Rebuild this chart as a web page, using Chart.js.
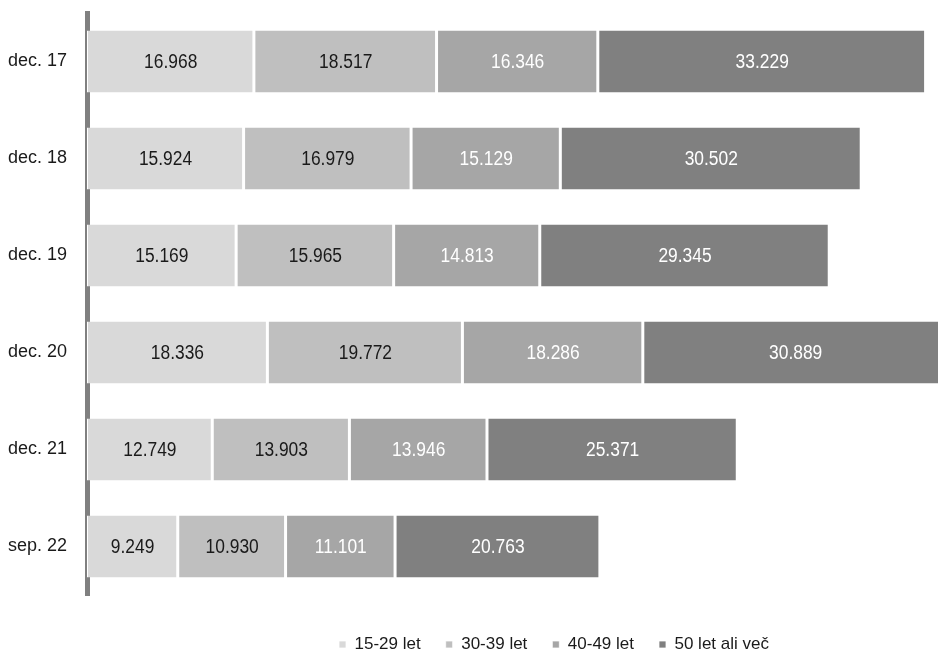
<!DOCTYPE html>
<html>
<head>
<meta charset="utf-8">
<script src="https://cdn.jsdelivr.net/npm/chart.js@4.4.1/dist/chart.umd.min.js"></script>
<style>
    body { margin: 0; background: #fff; }
    #wrap { width: 938px; height: 651px; overflow: hidden; position: relative; }
    #box { width: 1108px; height: 663px; }
</style>
</head>
<body>
<div id="wrap"><div id="box"><canvas id="myChart" width="1108" height="663"></canvas></div></div>
<script>
// Podatki
const categories = ['dec. 17', 'dec. 18', 'dec. 19', 'dec. 20', 'dec. 21', 'sep. 22'];
const seriesNames = ['15-29 let', '30-39 let', '40-49 let', '50 let ali več'];
const age15to29 = [16968, 15924, 15169, 18336, 12749, 9249];
const age30to39 = [18517, 16979, 15965, 19772, 13903, 10930];
const age40to49 = [16346, 15129, 14813, 18286, 13946, 11101];
const age50plus = [33229, 30502, 29345, 30889, 25371, 20763];

const colors = ['#d9d9d9', '#bfbfbf', '#a6a6a6', '#808080'];
const labelColors = ['#1a1a1a', '#1a1a1a', '#ffffff', '#ffffff'];
const FONT = '"Liberation Sans", Arial, sans-serif';

// 16968 -> 16.968
function formatNumber(v) {
    return String(v).replace(/\B(?=(\d{3})+(?!\d))/g, '.');
}

// Oznake vrednosti na sredini segmentov (ozka pisava)
const valueLabels = {
    id: 'valueLabels',
    afterDatasetsDraw(chart) {
        const ctx = chart.ctx;
        chart.data.datasets.forEach((ds, i) => {
            const meta = chart.getDatasetMeta(i);
            meta.data.forEach((bar, j) => {
                const c = bar.getCenterPoint();
                ctx.save();
                ctx.translate(c.x, c.y + 1);
                ctx.scale(0.87, 1);
                ctx.font = `20px ${FONT}`;
                ctx.textAlign = 'center';
                ctx.textBaseline = 'middle';
                ctx.fillStyle = labelColors[i];
                ctx.fillText(formatNumber(ds.data[j]), 0, 0);
                ctx.restore();
            });
        });
    }
};

function renderChart() {
    const ctx = document.getElementById('myChart').getContext('2d');
    const series = [age15to29, age30to39, age40to49, age50plus];
    const myChart = new Chart(ctx, {
        type: 'bar',
        data: {
            labels: categories,
            datasets: series.map((data, i) => ({
                label: seriesNames[i],
                data,
                backgroundColor: colors[i],
                borderColor: '#ffffff',
                borderWidth: { left: 1, right: 2, top: 0, bottom: 0 },
                borderSkipped: false,
                categoryPercentage: 1,
                barPercentage: 0.64,
            }))
        },
        options: {
            indexAxis: 'y',
            responsive: false,
            animation: false,
            layout: { padding: { top: 13, right: 0, left: 0, bottom: 0 } },
            scales: {
                x: {
                    stacked: true,
                    min: 0,
                    max: 103500,
                    grid: { display: false },
                    border: { display: false },
                    ticks: { display: false },
                    afterFit: (scale) => { scale.height = 16; },
                },
                y: {
                    stacked: true,
                    z: 1,
                    grid: { display: false, drawTicks: false },
                    border: { display: true, color: '#808080', width: 5 },
                    ticks: {
                        padding: 20,
                        color: '#1a1a1a',
                        font: { family: FONT, size: 18 },
                    },
                    afterFit: (scale) => {
                        scale.width = 87;
                        scale.paddingTop = 0;
                        scale.paddingBottom = 0;
                    },
                },
            },
            plugins: {
                legend: {
                    position: 'bottom',
                    labels: {
                        boxWidth: 7,
                        boxHeight: 7,
                        padding: 25,
                        color: '#1a1a1a',
                        font: { family: FONT, size: 17 },
                    },
                },
                tooltip: { enabled: false },
            },
        },
        plugins: [valueLabels],
    });
}

document.addEventListener('DOMContentLoaded', () => {
    renderChart();
});
</script>
</body>
</html>
